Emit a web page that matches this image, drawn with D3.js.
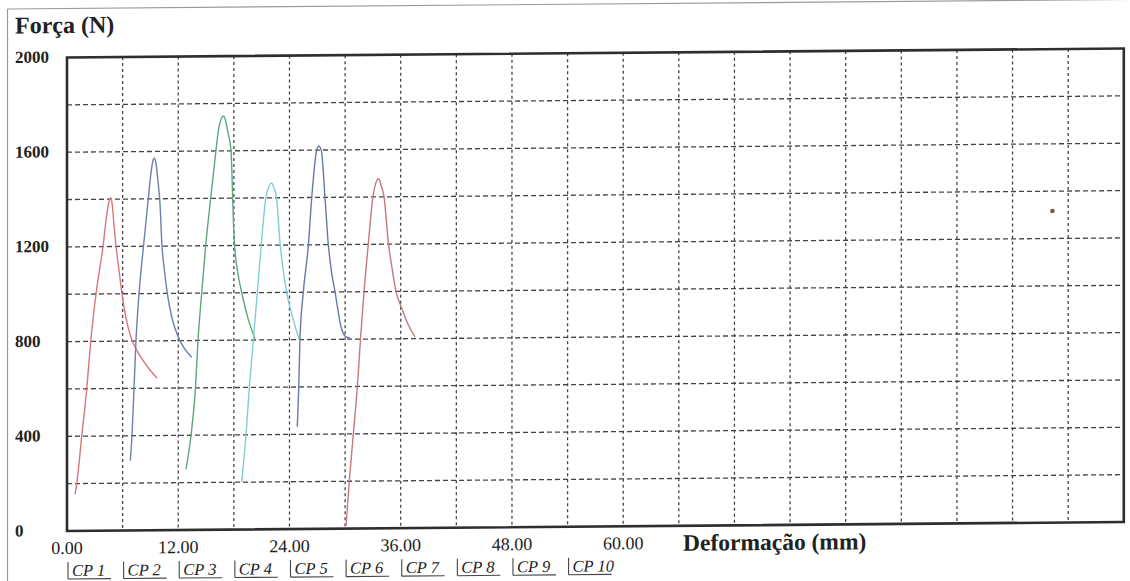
<!DOCTYPE html>
<html>
<head>
<meta charset="utf-8">
<script src="https://cdn.jsdelivr.net/npm/d3@7"></script>
<style>
  html, body { margin: 0; padding: 0; background: #ffffff; }
  svg { display: block; }
</style>
</head>
<body>
<svg id="chart" width="1130" height="581"></svg>
<script>
// ---------- data (deformation in mm, force in N) ----------
const seriesNames = ["CP 1", "CP 2", "CP 3", "CP 4", "CP 5", "CP 6"];
const legendLabels = ["CP 1", "CP 2", "CP 3", "CP 4", "CP 5", "CP 6", "CP 7", "CP 8", "CP 9", "CP 10"];
const xTickLabels = [0, 12, 24, 36, 48, 60];
const yTickLabels = [0, 400, 800, 1200, 1600, 2000];

const cp1X = [0.86, 1.05, 1.59, 2.13, 2.56, 3.13, 3.88, 4.31, 4.58, 4.70, 4.85, 5.05, 5.29, 5.61, 5.93, 6.35, 6.95, 7.60, 8.30, 9.00, 9.71];
const cp1Y = [154, 200, 400, 600, 800, 1000, 1200, 1340, 1398, 1405, 1385, 1300, 1200, 1100, 1000, 900, 810, 755, 712, 675, 642];

const cp2X = [6.83, 7.01, 7.23, 7.44, 7.77, 8.25, 8.77, 9.06, 9.30, 9.42, 9.58, 9.80, 10.03, 10.25, 10.50, 10.82, 11.30, 12.00, 12.70, 13.45];
const cp2Y = [295, 400, 600, 800, 1000, 1200, 1400, 1510, 1565, 1572, 1555, 1480, 1380, 1200, 1100, 1000, 900, 815, 765, 729];

const cp3X = [12.84, 13.38, 13.86, 14.13, 14.53, 14.96, 15.50, 15.95, 16.35, 16.70, 16.86, 17.05, 17.35, 17.69, 17.83, 17.95, 18.12, 18.40, 18.85, 19.50, 20.28];
const cp3Y = [257, 400, 600, 800, 1000, 1200, 1400, 1560, 1690, 1740, 1747, 1735, 1680, 1600, 1460, 1300, 1180, 1090, 1000, 895, 805];

const cp4X = [18.84, 19.31, 19.67, 20.10, 20.53, 20.95, 21.45, 21.80, 22.00, 22.08, 22.25, 22.60, 23.00, 23.30, 23.70, 24.30, 25.06];
const cp4Y = [200, 400, 600, 800, 1000, 1200, 1400, 1450, 1462, 1463, 1450, 1400, 1200, 1100, 1000, 900, 800];

const cp5X = [24.84, 25.00, 25.13, 25.49, 26.04, 26.40, 26.94, 27.10, 27.18, 27.30, 27.47, 27.83, 28.19, 28.48, 28.91, 29.63, 30.10, 30.53];
const cp5Y = [432, 600, 800, 1000, 1200, 1400, 1600, 1615, 1617, 1612, 1590, 1400, 1200, 1100, 1000, 842, 810, 805];

const cp6X = [30.10, 30.45, 30.89, 31.32, 31.66, 32.04, 32.50, 33.00, 33.28, 33.50, 33.58, 33.70, 33.87, 34.20, 34.68, 35.06, 35.49, 36.10, 36.80, 37.54];
const cp6Y = [10, 200, 400, 600, 800, 1000, 1200, 1400, 1455, 1474, 1477, 1472, 1450, 1400, 1200, 1100, 1000, 930, 860, 807];

const seriesColors = ["#d8767f", "#6d7fad", "#5fa67c", "#80cfd0", "#6a79a8", "#c47a7f"];

// stray ink dot on the scanned sheet (mm, N)
const inkDotX = [106.3];
const inkDotY = [1316];

// ---------- layout ----------
const svg = d3.select("#chart");
const mLeft = 67, mRight = 1123.8, mTop = 57.5, mBottom = 531;

const x = d3.scaleLinear().domain([0, 114]).range([mLeft, mRight]);
const y = d3.scaleLinear().domain([0, 2000]).range([mBottom, mTop]);

// scanned sheet is slightly tilted
const tilt = -0.487;
const k = Math.tan(tilt * Math.PI / 180);
const root = svg.append("g")
  .attr("transform", `translate(0,${(-k * mLeft).toFixed(3)}) skewY(${tilt})`);

// sheet border
root.append("line").attr("x1", 7.5).attr("x2", 1135).attr("y1", 8.5).attr("y2", 8.5)
  .attr("stroke", "#9a9a9a").attr("stroke-width", 1.2);
root.append("line").attr("x1", 7.5).attr("x2", 7.5).attr("y1", 8.5).attr("y2", 590)
  .attr("stroke", "#9a9a9a").attr("stroke-width", 1.2);

// grid
const gridColor = "#444";
root.append("g").selectAll("line")
  .data(d3.range(200, 2000, 200))
  .join("line")
  .attr("x1", mLeft).attr("x2", mRight)
  .attr("y1", d => y(d)).attr("y2", d => y(d))
  .attr("stroke", gridColor).attr("stroke-width", 1.3)
  .attr("stroke-dasharray", "5,3");

root.append("g").selectAll("line")
  .data(d3.range(6, 114, 6))
  .join("line")
  .attr("x1", d => x(d)).attr("x2", d => x(d))
  .attr("y1", mTop).attr("y2", mBottom)
  .attr("stroke", gridColor).attr("stroke-width", 1.3)
  .attr("stroke-dasharray", "3,3");

// frame
root.append("rect")
  .attr("x", mLeft).attr("y", mTop)
  .attr("width", mRight - mLeft).attr("height", mBottom - mTop)
  .attr("fill", "none").attr("stroke", "#2e2e2e").attr("stroke-width", 2.6);

// curves
const line = d3.line()
  .x(d => x(d[0])).y(d => y(d[1]))
  .curve(d3.curveMonotoneX);

const allX = [cp1X, cp2X, cp3X, cp4X, cp5X, cp6X];
const allY = [cp1Y, cp2Y, cp3Y, cp4Y, cp5Y, cp6Y];
const series = seriesNames.map((name, i) => ({
  name, color: seriesColors[i],
  pts: allX[i].map((v, j) => [v, allY[i][j]])
}));

root.append("g").selectAll("path")
  .data(series)
  .join("path")
  .attr("d", d => line(d.pts))
  .attr("fill", "none")
  .attr("stroke", d => d.color)
  .attr("stroke-width", 1.4);

// ink dot
root.append("g").selectAll("circle")
  .data(inkDotX.map((v, i) => [v, inkDotY[i]]))
  .join("circle")
  .attr("cx", d => x(d[0])).attr("cy", d => y(d[1]))
  .attr("r", 2.3).attr("fill", "#7a5a50");

const serif = "Liberation Serif, Times New Roman, serif";

// title
root.append("text")
  .attr("x", 15).attr("y", 33)
  .attr("font-family", serif)
  .attr("font-weight", "bold").attr("font-size", 24)
  .attr("fill", "#222")
  .text("Força (N)");

// y tick labels
root.append("g").selectAll("text")
  .data(yTickLabels)
  .join("text")
  .attr("x", 15)
  .attr("y", d => y(d) + 5)
  .attr("font-family", serif)
  .attr("font-weight", "bold").attr("font-size", 17)
  .attr("fill", "#222")
  .text(d => d);

// x tick labels
const fmt = d3.format(".2f");
root.append("g").selectAll("text")
  .data(xTickLabels)
  .join("text")
  .attr("x", d => x(d))
  .attr("y", mBottom + 23)
  .attr("text-anchor", "middle")
  .attr("font-family", serif)
  .attr("font-size", 18)
  .attr("fill", "#1e1e1e")
  .text(d => fmt(d));

// x axis title
root.append("text")
  .attr("x", 683).attr("y", mBottom + 25)
  .attr("font-family", serif)
  .attr("font-weight", "bold").attr("font-size", 23.5)
  .attr("fill", "#222")
  .text("Deformação (mm)");

// legend
const leg = root.append("g").selectAll("g")
  .data(legendLabels)
  .join("g")
  .attr("transform", (d, i) => `translate(${x(i * 6) + 1},0)`);
leg.append("line")
  .attr("x1", 0).attr("x2", 0).attr("y1", 562).attr("y2", 579)
  .attr("stroke", "#444").attr("stroke-width", 1.1);
leg.append("line")
  .attr("x1", 0).attr("x2", 43).attr("y1", 579).attr("y2", 579)
  .attr("stroke", "#444").attr("stroke-width", 1.1);
leg.append("text")
  .attr("x", 4).attr("y", 576)
  .attr("font-family", serif)
  .attr("font-style", "italic").attr("font-size", 16.5)
  .attr("fill", "#222")
  .text(d => d);
</script>
</body>
</html>
